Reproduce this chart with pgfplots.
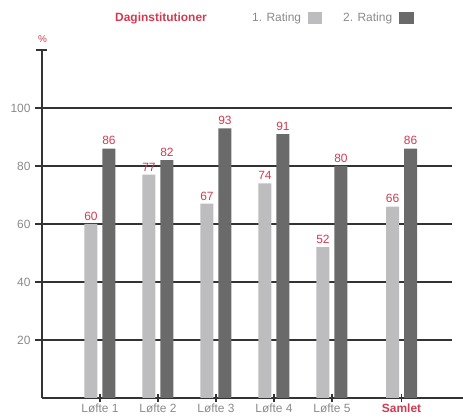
\documentclass[border=0pt]{standalone}
\usepackage{fontspec}
\setmainfont{Liberation Sans}
\usepackage{pgfplots}
\pgfplotsset{compat=1.18}
\definecolor{lightbar}{HTML}{BDBDBF}
\definecolor{darkbar}{HTML}{6A6A6A}
\definecolor{lab}{HTML}{D23A50}
\definecolor{tickgray}{HTML}{8A8A8A}
\definecolor{axcol}{HTML}{333333}
\begin{document}
\begin{tikzpicture}
\useasboundingbox (-42bp,-22bp) rectangle (421bp,398bp);
\begin{axis}[
  at={(0,0)}, anchor=south west,
  scale only axis, width=410bp, height=348bp,
  xmin=0, xmax=7.07, ymin=0, ymax=120,
  /pgf/number format/assume math mode=true,
  axis lines=left,
  axis line style={-, axcol, line width=1.5bp},
  x axis line style={shorten >=-12bp},
  ybar=5bp, bar width=13bp,
  ytick={20,40,60,80,100},
  extra y ticks={120}, extra y tick labels={},
  extra y tick style={grid=none, ytick align=center, major tick length=11bp, tick style={line width=2.2bp, axcol}},
  ymajorgrids, grid style={axcol, line width=1.2bp},
  xtick={1,2,3,4,5,6.2},
  xticklabels={Løfte 1,Løfte 2,Løfte 3,Løfte 4,Løfte 5,\textcolor{lab}{\bfseries Samlet}},
  xtick align=center, ytick align=outside,
  major tick length=7bp,
  tick style={axcol, line width=1.2bp},
  ticklabel style={font=\fontsize{12}{14}\selectfont, text=tickgray},
  yticklabel style={xshift=-1bp},
  xticklabel style={yshift=1bp},
  nodes near coords,
  nodes near coords style={font=\fontsize{12}{14}\selectfont, text=lab},
]
\addplot[fill=lightbar, draw=none] coordinates {(1,60) (2,77) (3,67) (4,74) (5,52) (6.2,66)};
\addplot[fill=darkbar, draw=none] coordinates {(1,86) (2,82) (3,93) (4,91) (5,80) (6.2,86)};
\end{axis}
\node[font=\fontsize{12}{14}\selectfont\bfseries, text=lab] at (119bp,380bp) {Daginstitutioner};
\node[font=\fontsize{12}{14}\selectfont, text=tickgray, anchor=west, inner sep=0pt] at (210bp,380bp) {1. Rating};
\fill[lightbar] (266bp,374bp) rectangle (280bp,386bp);
\node[font=\fontsize{12}{14}\selectfont, text=tickgray, anchor=west, inner sep=0pt] at (301bp,380bp) {2. Rating};
\fill[darkbar] (357bp,374bp) rectangle (372bp,386bp);
\node[font=\fontsize{10}{12}\selectfont, text=lab] at (0.5bp,359bp) {\%};
\end{tikzpicture}
\end{document}
